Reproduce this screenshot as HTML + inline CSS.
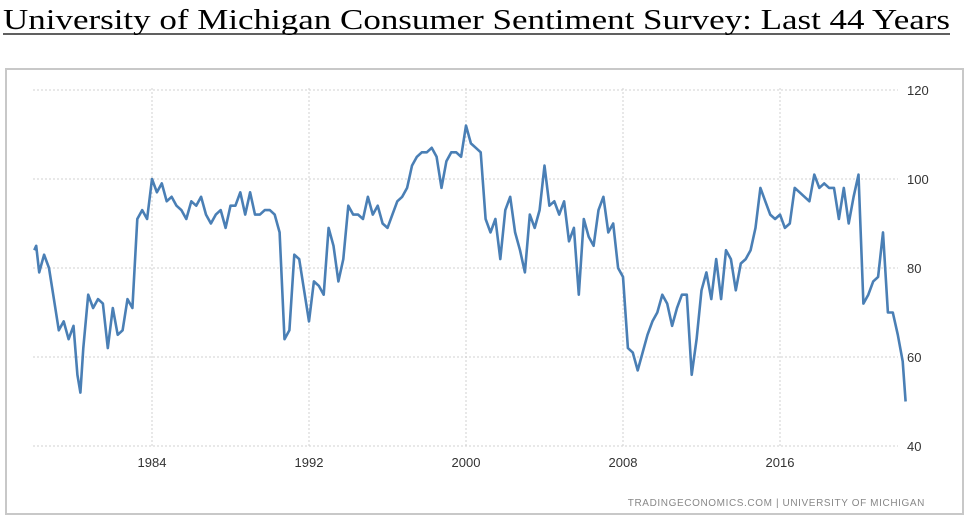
<!DOCTYPE html>
<html><head><meta charset="utf-8"><style>
html,body{margin:0;padding:0;background:#fff;width:969px;height:525px;overflow:hidden}
svg{display:block}
</style></head><body>
<svg id="chart" width="969" height="525">
<text x="3" y="29" font-family="Liberation Serif, serif" font-size="29" fill="#000" textLength="947" lengthAdjust="spacingAndGlyphs">University of Michigan Consumer Sentiment Survey: Last 44 Years</text>
<line x1="3" y1="34" x2="950" y2="34" stroke="#000" stroke-width="1.3"/>
<rect x="6" y="69" width="957" height="445" fill="none" stroke="#c8c8c8" stroke-width="2"/>
<g id="grid"></g>
<g id="labels"></g>
<path id="line" fill="none" stroke="#4a7fb5" stroke-width="2.6" stroke-linejoin="round"/>
<text x="925" y="506" text-anchor="end" font-family="Liberation Sans, sans-serif" font-size="10" fill="#888" letter-spacing="0.6">TRADINGECONOMICS.COM  |  UNIVERSITY OF MICHIGAN</text>
</svg>
<script>
const yTicks=[40,60,80,100,120];
const xTicks=[1984,1992,2000,2008,2016];
const times=[1978,1978.1,1978.25,1978.5,1978.75,1979,1979.25,1979.5,1979.75,1980,1980.2,1980.35,1980.5,1980.75,1981,1981.25,1981.5,1981.75,1982,1982.25,1982.5,1982.75,1983,1983.25,1983.5,1983.75,1984,1984.25,1984.5,1984.75,1985,1985.25,1985.5,1985.75,1986,1986.25,1986.5,1986.75,1987,1987.25,1987.5,1987.75,1988,1988.25,1988.5,1988.75,1989,1989.25,1989.5,1989.75,1990,1990.25,1990.5,1990.75,1991,1991.25,1991.5,1991.75,1992,1992.25,1992.5,1992.75,1993,1993.25,1993.5,1993.75,1994,1994.25,1994.5,1994.75,1995,1995.25,1995.5,1995.75,1996,1996.25,1996.5,1996.75,1997,1997.25,1997.5,1997.75,1998,1998.25,1998.5,1998.75,1999,1999.25,1999.5,1999.75,2000,2000.25,2000.5,2000.75,2001,2001.25,2001.5,2001.75,2002,2002.25,2002.5,2002.75,2003,2003.25,2003.5,2003.75,2004,2004.25,2004.5,2004.75,2005,2005.25,2005.5,2005.75,2006,2006.25,2006.5,2006.75,2007,2007.25,2007.5,2007.75,2008,2008.25,2008.5,2008.75,2009,2009.25,2009.5,2009.75,2010,2010.25,2010.5,2010.75,2011,2011.25,2011.5,2011.75,2012,2012.25,2012.5,2012.75,2013,2013.25,2013.5,2013.75,2014,2014.25,2014.5,2014.75,2015,2015.25,2015.5,2015.75,2016,2016.25,2016.5,2016.75,2017,2017.25,2017.5,2017.75,2018,2018.25,2018.5,2018.75,2019,2019.25,2019.5,2019.75,2020,2020.25,2020.5,2020.75,2021,2021.25,2021.5,2021.75,2022,2022.25,2022.4];
const values=[84,85,79,83,80,73,66,68,64,67,56,52,62,74,71,73,72,62,71,65,66,73,71,91,93,91,100,97,99,95,96,94,93,91,95,94,96,92,90,92,93,89,94,94,97,92,97,92,92,93,93,92,88,64,66,83,82,75,68,77,76,74,89,85,77,82,94,92,92,91,96,92,94,90,89,92,95,96,98,103,105,106,106,107,105,98,104,106,106,105,112,108,107,106,91,88,91,82,93,96,88,84,79,92,89,93,103,94,95,92,95,86,89,74,91,87,85,93,96,88,90,80,78,62,61,57,61,65,68,70,74,72,67,71,74,74,56,64,75,79,73,82,73,84,82,75,81,82,84,89,98,95,92,91,92,89,90,98,97,96,95,101,98,99,98,98,91,98,90,96,101,72,74,77,78,88,70,70,65,59,50];
const X=t=>152+(t-1984)*19.625;
const Y=v=>446-(v-40)*4.45;
const ns="http://www.w3.org/2000/svg";
const grid=document.getElementById('grid'),labels=document.getElementById('labels');
yTicks.forEach(v=>{
  const l=document.createElementNS(ns,'line');
  l.setAttribute('x1',33);l.setAttribute('x2',898);l.setAttribute('y1',Y(v));l.setAttribute('y2',Y(v));
  l.setAttribute('stroke','#d0d0d0');l.setAttribute('stroke-dasharray','2,2');
  
  
  grid.appendChild(l);
  const t=document.createElementNS(ns,'text');
  t.setAttribute('x',907);t.setAttribute('y',Y(v)+5);
  t.setAttribute('font-family','Liberation Sans, sans-serif');t.setAttribute('font-size','13');t.setAttribute('fill','#333');
  t.textContent=v;
  
  
  labels.appendChild(t);
});
xTicks.forEach(yr=>{
  const l=document.createElementNS(ns,'line');
  l.setAttribute('x1',X(yr));l.setAttribute('x2',X(yr));l.setAttribute('y1',88);l.setAttribute('y2',448);
  l.setAttribute('stroke','#d0d0d0');l.setAttribute('stroke-dasharray','2,2');
  
  
  grid.appendChild(l);
  const t=document.createElementNS(ns,'text');
  t.setAttribute('x',X(yr));t.setAttribute('y',467);t.setAttribute('text-anchor','middle');
  t.setAttribute('font-family','Liberation Sans, sans-serif');t.setAttribute('font-size','13');t.setAttribute('fill','#333');
  t.textContent=yr;
  
  
  labels.appendChild(t);
});
document.getElementById('line').setAttribute('d',times.map((t,i)=>(i?'L':'M')+X(t).toFixed(1)+','+Y(values[i]).toFixed(1)).join(''));
</script>
</body></html>
